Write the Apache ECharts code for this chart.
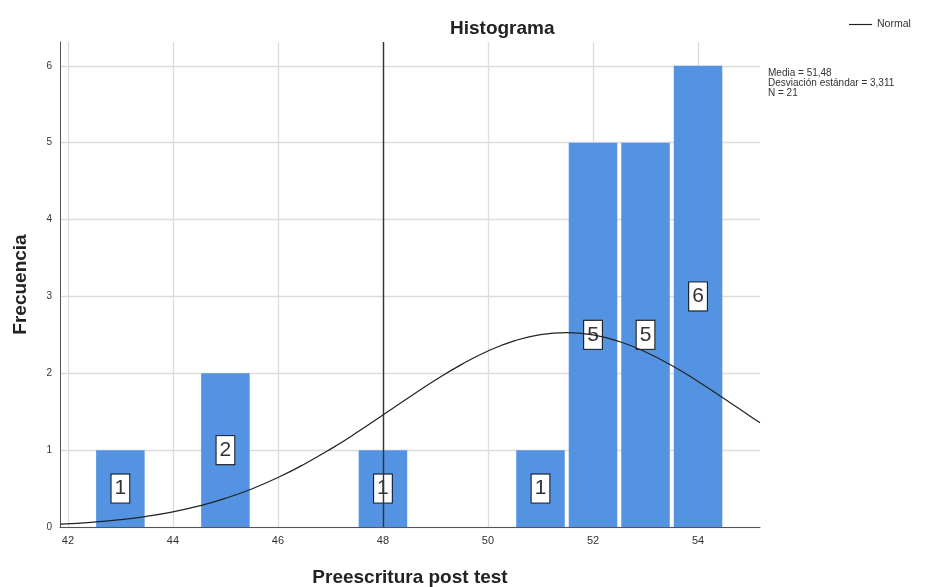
<!DOCTYPE html>
<html><head><meta charset="utf-8">
<script src="https://cdn.jsdelivr.net/npm/echarts@6/dist/echarts.min.js"></script>
<style>html,body{margin:0;padding:0;background:#fff}#c{width:933px;height:587px}</style>
</head><body><div id="c"></div>
<script>
// Histogram bins (centre of each unit-wide bin) and frequencies
const binCenters = [43, 45, 48, 51, 52, 53, 54];
const frequencies = [1, 2, 1, 1, 5, 5, 6];
// Normal curve points
const curveX = [41.85, 42.5, 43, 43.5, 44, 44.5, 45, 45.5, 46, 46.5, 47, 47.5, 48, 48.5, 49, 49.5, 50, 50.5, 51, 51.5, 52, 52.5, 53, 53.5, 54, 54.5, 55, 55.18];
const curveY = [0.037, 0.064, 0.095, 0.139, 0.197, 0.274, 0.373, 0.495, 0.643, 0.817, 1.013, 1.228, 1.457, 1.687, 1.911, 2.116, 2.289, 2.421, 2.504, 2.530, 2.499, 2.413, 2.277, 2.100, 1.894, 1.669, 1.438, 1.355];
const xTickValues = [42, 44, 46, 48, 50, 52, 54];
const yTickValues = [0, 1, 2, 3, 4, 5, 6];
const statsLines = ['Media = 51,48', 'Desviación estándar = 3,311', 'N = 21'];
const referenceX = 48;

const FONT = '"Liberation Sans", Arial, sans-serif';
const barColor = '#5493E2';
const chart = echarts.init(document.getElementById('c'));

chart.setOption({
  backgroundColor: '#fff',
  animation: false,
  textStyle: { fontFamily: FONT },
  title: {
    text: 'Histograma', left: 445, top: 14,
    textStyle: { fontSize: 19, fontWeight: 'bold', color: '#222', fontFamily: FONT }
  },
  legend: {
    data: [{ name: 'Normal', icon: 'path://M0,0L24,0L24,1.2L0,1.2Z' }],
    left: 844, top: 14, itemWidth: 23, itemHeight: 1.2, itemGap: 4,
    itemStyle: { color: '#222' },
    textStyle: { fontSize: 10.5, color: '#333', fontFamily: FONT }
  },
  graphic: [{
    type: 'text', left: 768, top: 68,
    style: { text: statsLines.join('\n'), font: '10px ' + FONT, fill: '#333', lineHeight: 10 }
  }],
  grid: { left: 60, right: 173, top: 42, bottom: 60, containLabel: false, outerBoundsMode: 'none' },
  xAxis: {
    type: 'value', min: 41.85, max: 55.18,
    name: 'Preescritura post test', nameLocation: 'middle', nameGap: 41,
    nameTextStyle: { fontSize: 19, fontWeight: 'bold', color: '#222', fontFamily: FONT },
    axisLine: { show: true, lineStyle: { color: '#555', width: 1 } },
    axisTick: { show: false, customValues: xTickValues },
    axisLabel: { customValues: xTickValues, fontSize: 11, color: '#333', margin: 8, fontFamily: FONT },
    splitLine: { show: true, lineStyle: { color: '#dcdcdc', width: 1.3 } }
  },
  yAxis: {
    type: 'value', min: 0, max: 6.31,
    name: 'Frecuencia', nameLocation: 'middle', nameGap: 30,
    nameTextStyle: { fontSize: 19, fontWeight: 'bold', color: '#222', fontFamily: FONT },
    axisLine: { show: true, lineStyle: { color: '#555', width: 1 } },
    axisTick: { show: false, customValues: yTickValues },
    axisLabel: { customValues: yTickValues, fontSize: 10, color: '#333', margin: 8, fontFamily: FONT },
    splitLine: { show: true, lineStyle: { color: '#dcdcdc', width: 1.3 } }
  },
  series: [
    {
      type: 'custom', name: 'Frecuencia', z: 2,
      data: binCenters.map((x, i) => [x, frequencies[i]]),
      renderItem(params, api) {
        const x = api.value(0), y = api.value(1);
        const p0 = api.coord([x - 0.5, y]);
        const p1 = api.coord([x + 0.5, 0]);
        const mid = api.coord([x, y / 2]);
        const inset = 2;
        return {
          type: 'group',
          children: [
            { type: 'rect', shape: { x: p0[0] + inset, y: p0[1], width: p1[0] - p0[0] - 2 * inset, height: p1[1] - p0[1] }, style: { fill: barColor } },
            { type: 'text', x: mid[0], y: mid[1], z2: 10,
              style: { text: String(y), align: 'center', verticalAlign: 'middle', font: '21px ' + FONT, fill: '#333',
                backgroundColor: '#fff', borderColor: '#111', borderWidth: 1, padding: [4, 3, 3, 3] } }
          ]
        };
      }
    },
    {
      type: 'line', name: 'Normal', z: 5, smooth: true, symbol: 'none', showSymbol: false,
      data: curveX.map((x, i) => [x, curveY[i]]),
      lineStyle: { color: '#222', width: 1.2 },
      itemStyle: { color: '#222' },
      markLine: {
        silent: true, symbol: 'none', label: { show: false },
        lineStyle: { color: '#333', width: 1.4, type: 'solid' },
        data: [{ xAxis: referenceX }]
      }
    }
  ]
});
</script></body></html>
